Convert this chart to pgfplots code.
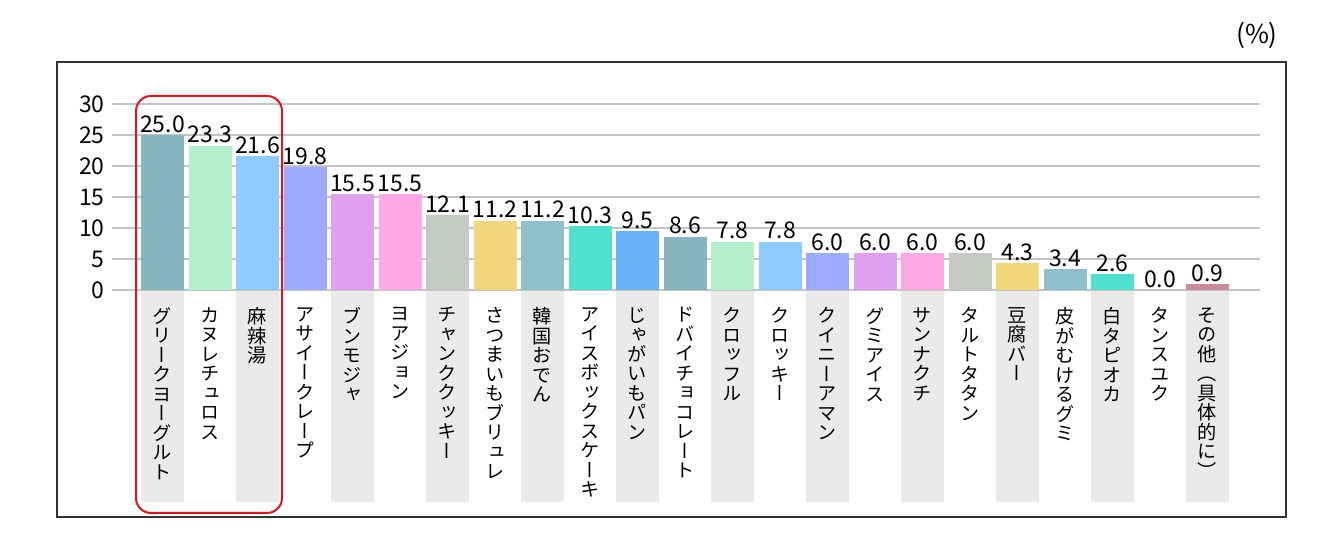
\documentclass[border=0pt]{standalone}
\usepackage{fontspec}
\setmainfont{Noto Sans CJK JP}
\newfontfamily\jpv{Noto Sans CJK JP}[RawFeature=+vert]
\usepackage{pgfplots}
\pgfplotsset{compat=1.18}

\definecolor{ca}{HTML}{88B5BE}
\definecolor{cb}{HTML}{B5F0CE}
\definecolor{cc}{HTML}{8FCBFF}
\definecolor{cd}{HTML}{9DAAFF}
\definecolor{ce}{HTML}{E0A0F0}
\definecolor{cf}{HTML}{FFA8E6}
\definecolor{cg}{HTML}{C5CAC5}
\definecolor{ch}{HTML}{F0D87A}
\definecolor{ci}{HTML}{90C0CC}
\definecolor{cj}{HTML}{50E0D0}
\definecolor{ck}{HTML}{68B3F5}
\definecolor{cl}{HTML}{C88C98}
\definecolor{boxgray}{HTML}{EAEAEA}
\definecolor{gridgray}{HTML}{C4C4C4}
\definecolor{hlred}{HTML}{E3141E}

% stack characters one under another for vertical labels
\makeatletter
\def\vt#1{\vbox{\baselineskip=9.75pt\lineskiplimit=-20pt\vt@#1\@nil}}
\def\vt@#1{\ifx#1\@nil\else\hbox to 9.6pt{\hss#1\hss}\expandafter\vt@\fi}
\makeatother

\begin{document}
\begin{tikzpicture}
\path (0,0) rectangle (661.5pt,267pt);
\draw[line width=0.9pt, black!80] (28.5pt,236pt) rectangle (643pt,8.5pt);
\node[font=\fontsize{13pt}{14pt}\selectfont] at (628.5pt,249.5pt) {(\%)};

\begin{axis}[
  at={(56pt,122pt)}, anchor=south west,
  scale only axis, width=574pt, height=93pt,
  set layers=standard,
  xmin=-1.0632, xmax=23.105, ymin=0, ymax=30,
  ybar, bar width=21.5pt, bar shift=0pt,
  axis line style={draw=none}, major tick length=0pt,
  ytick={0,5,...,30}, yticklabels={0,5,10,15,20,25,30},
  yticklabel style={anchor=east, inner sep=0pt, xshift=-3.5pt,
    font=\fontsize{11.5pt}{12pt}\selectfont},
  ymajorgrids, grid style={line width=0.75pt, gridgray},
  xtick={0,...,22},
  xticklabels={{\vt{グリークヨーグルト}},{\vt{カヌレチュロス}},{\vt{麻辣湯}},
    {\vt{アサイークレープ}},{\vt{ブンモジャ}},{\vt{ヨアジョン}},
    {\vt{チャンククッキー}},{\vt{さつまいもブリュレ}},{\vt{韓国おでん}},
    {\vt{アイスボックスケーキ}},{\vt{じゃがいもパン}},{\vt{ドバイチョコレート}},
    {\vt{クロッフル}},{\vt{クロッキー}},{\vt{クイニーアマン}},
    {\vt{グミアイス}},{\vt{サンナクチ}},{\vt{タルトタタン}},
    {\vt{豆腐バー}},{\vt{皮がむけるグミ}},{\vt{白タピオカ}},
    {\vt{タンスユク}},{\vt{その他（具体的に）}}},
  xticklabel style={anchor=north, inner sep=0pt, yshift=-8.5pt,
    font=\jpv\fontsize{9.6pt}{9.75pt}\selectfont},
  clip=false,
  /pgf/number format/assume math mode=true,
  nodes near coords={\pgfmathprintnumber[fixed,fixed zerofill,precision=1]{\pgfplotspointmeta}},
  every node near coord/.append style={anchor=south, inner sep=1pt,
    font=\fontsize{11.5pt}{12pt}\selectfont, black},
]
% grey label panels behind every other category
\addplot[fill=boxgray, draw=none, on layer=axis background, nodes near coords={}]
  coordinates {(0,-34.19) (2,-34.19) (4,-34.19) (6,-34.19) (8,-34.19) (10,-34.19)
    (12,-34.19) (14,-34.19) (16,-34.19) (18,-34.19) (20,-34.19) (22,-34.19)};
\addplot[fill=ca, draw=none] coordinates {(0,25.0)};
\addplot[fill=cb, draw=none] coordinates {(1,23.3)};
\addplot[fill=cc, draw=none] coordinates {(2,21.6)};
\addplot[fill=cd, draw=none] coordinates {(3,19.8)};
\addplot[fill=ce, draw=none] coordinates {(4,15.5)};
\addplot[fill=cf, draw=none] coordinates {(5,15.5)};
\addplot[fill=cg, draw=none] coordinates {(6,12.1)};
\addplot[fill=ch, draw=none] coordinates {(7,11.2)};
\addplot[fill=ci, draw=none] coordinates {(8,11.2)};
\addplot[fill=cj, draw=none] coordinates {(9,10.3)};
\addplot[fill=ck, draw=none] coordinates {(10,9.5)};
\addplot[fill=ca, draw=none] coordinates {(11,8.6)};
\addplot[fill=cb, draw=none] coordinates {(12,7.8)};
\addplot[fill=cc, draw=none] coordinates {(13,7.8)};
\addplot[fill=cd, draw=none] coordinates {(14,6.0)};
\addplot[fill=ce, draw=none] coordinates {(15,6.0)};
\addplot[fill=cf, draw=none] coordinates {(16,6.0)};
\addplot[fill=cg, draw=none] coordinates {(17,6.0)};
\addplot[fill=ch, draw=none] coordinates {(18,4.3)};
\addplot[fill=ci, draw=none] coordinates {(19,3.4)};
\addplot[fill=cj, draw=none] coordinates {(20,2.6)};
\addplot[fill=ck, draw=none] coordinates {(21,0.0)};
\addplot[fill=cl, draw=none] coordinates {(22,0.9)};
\end{axis}

\draw[hlred, line width=1pt, rounded corners=7.5pt] (68pt,219pt) rectangle (141pt,10.5pt);
\end{tikzpicture}
\end{document}
